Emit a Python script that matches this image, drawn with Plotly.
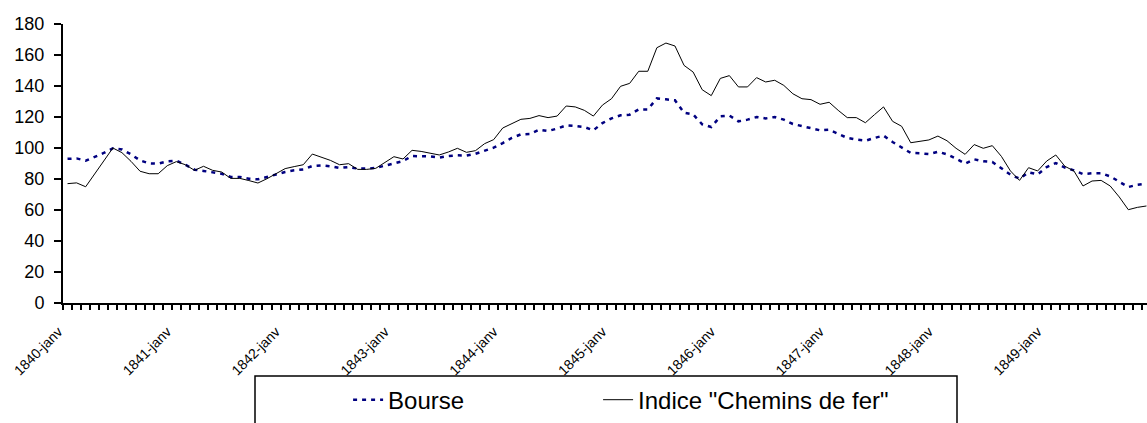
import plotly.graph_objects as go

years = [1840, 1841, 1842, 1843, 1844, 1845, 1846, 1847, 1848, 1849]
month_names = ["janv", "févr", "mars", "avr", "mai", "juin",
               "juil", "août", "sept", "oct", "nov", "déc"]
categories = [f"{y}-{m}" for y in years for m in month_names]

bourse = [
    93, 93.3, 91.8, 94.2, 96.8, 99.8, 99.1, 95.9, 92, 90.1, 89.9, 91.4,
    91.8, 89.2, 86, 85.2, 84.3, 83.4, 81.3, 81.3, 80.2, 79.8, 81.3, 83,
    84.5, 85.6, 86.2, 88.4, 88.8, 88.2, 87.1, 87.7, 86.7, 86.7, 87.1, 88.6,
    90.3, 91.6, 94.8, 94.8, 94.6, 93.8, 94.8, 95.3, 95.1, 96.3, 98.1, 100.2,
    103.2, 106.5, 108.8, 109, 111.8, 111, 112.5, 114.6, 114.2, 113.5, 111.4, 116.1,
    119.1, 121.1, 121.5, 124.9, 124.9, 132, 131.4, 130.8, 122.8, 121.7, 115.3, 113.5,
    120.4, 120.9, 117.2, 118.3, 120, 119.1, 120, 118.3, 115.5, 114.2, 113.1, 111.4,
    111.8, 109.2, 106.5, 105.4, 104.7, 106.5, 108, 103.9, 100.6, 96.8, 96.6, 96.1,
    97.6, 95.9, 93.1, 89.9, 92.7, 91.4, 91, 86.7, 82.8, 80.2, 84.3, 83,
    87.7, 90.3, 87.3, 85.6, 83.2, 83.7, 83.7, 81.7, 78.1, 74.8, 76.3, 77,
]

chemins_de_fer = [
    77, 77.5, 75, 83.4, 91.4, 100, 97, 91.4, 85, 83.4, 83.4, 88.6,
    91.2, 89.2, 85.6, 88.2, 85.6, 84.5, 80.4, 80.4, 79, 77.4, 80.2, 83.7,
    86.7, 88, 89.2, 96.1, 94.2, 92, 89.2, 89.9, 86.2, 86.2, 86.9, 90.5,
    94.4, 92.9, 98.5, 97.8, 96.6, 95.5, 97.4, 99.8, 97.2, 98.3, 102.8, 105.4,
    112.9, 115.7, 118.5, 119.1, 120.9, 119.6, 120.6, 127.1, 126.5, 124.3, 120.6, 127.7,
    131.8, 139.8, 141.7, 149.5, 149.5, 164.7, 167.7, 165.8, 153.3, 149, 137.6, 133.8,
    144.9, 146.7, 139.4, 139.4, 145.4, 142.6, 143.7, 140.4, 135, 131.8, 131.2, 128.2,
    129.5, 124.3, 119.6, 119.6, 116.3, 121.5, 126.5, 117.2, 114, 103.4, 104.5, 105.2,
    107.7, 104.7, 99.8, 95.9, 102.2, 99.8, 101.5, 94.6, 85.2, 79.1, 87.3, 85.2,
    91.6, 95.5, 88.2, 85.2, 75.5, 78.7, 79.1, 75.5, 68.4, 60.2, 61.7, 62.6,
]

series_names = ["Bourse", 'Indice "Chemins de fer"']
y_ticks = [0, 20, 40, 60, 80, 100, 120, 140, 160, 180]

x_idx = list(range(len(categories)))
label_idx = [i for i, c in enumerate(categories) if c.endswith("-janv")]
label_txt = [categories[i] for i in label_idx]

FONT = "Liberation Sans, Arial, sans-serif"

fig = go.Figure()
fig.add_trace(go.Scatter(
    x=x_idx, y=bourse, name=series_names[0], mode="lines",
    customdata=categories,
    hovertemplate="%{customdata}: %{y}<extra>Bourse</extra>",
    line=dict(color="#000080", width=2.5, dash="4px,5px"),
    legendwidth=205,
))
fig.add_trace(go.Scatter(
    x=x_idx, y=chemins_de_fer, name=series_names[1], mode="lines",
    customdata=categories,
    hovertemplate="%{customdata}: %{y}<extra>Chemins de fer</extra>",
    line=dict(color="#000000", width=1),
))

fig.update_layout(
    width=1147, height=423,
    margin=dict(l=63, r=0, t=24, b=120, pad=0),
    paper_bgcolor="white", plot_bgcolor="white",
    font=dict(family=FONT, color="black"),
    showlegend=True,
    legend=dict(
        orientation="h", x=0.263, xanchor="left", y=-0.348, yanchor="middle",
        font=dict(size=24, family=FONT, color="black"),
        bgcolor="rgba(0,0,0,0)", borderwidth=0,
    ),
    shapes=[dict(
        type="rect", xref="paper", yref="paper",
        x0=(255 - 63) / 1084, x1=(957 - 63) / 1084,
        y0=(303 - 376) / 279, y1=(303 - 440) / 279,
        line=dict(color="black", width=1.5), fillcolor="rgba(0,0,0,0)",
    )],
)

fig.update_xaxes(
    range=[-0.5, 119.06], showgrid=False, zeroline=False, automargin=False,
    showline=True, linecolor="black", linewidth=2,
    tickmode="array", tickvals=label_idx, ticktext=label_txt,
    tickangle=-45, ticks="outside", ticklen=5, tickcolor="rgba(0,0,0,0)",
    ticklabelshift=-9, ticklabelstandoff=8,
    tickfont=dict(size=14, family=FONT, color="black"),
    minor=dict(ticks="outside", ticklen=5, tickwidth=1.5, tickcolor="black",
               tick0=-0.5, dtick=1, showgrid=False),
)
fig.update_yaxes(
    range=[0, 180], tickmode="array", tickvals=y_ticks,
    showgrid=False, zeroline=False, automargin=False,
    showline=True, linecolor="black", linewidth=2,
    ticks="outside", ticklen=7, tickwidth=1.5, tickcolor="black",
    ticklabelstandoff=6,
    tickfont=dict(size=18, family=FONT, color="black"),
)

fig.write_html(
    "out.html",
    config={"displayModeBar": False},
    post_script="document.body.style.margin='0';document.body.style.padding='0';"
                "document.documentElement.style.overflow='hidden';",
)
